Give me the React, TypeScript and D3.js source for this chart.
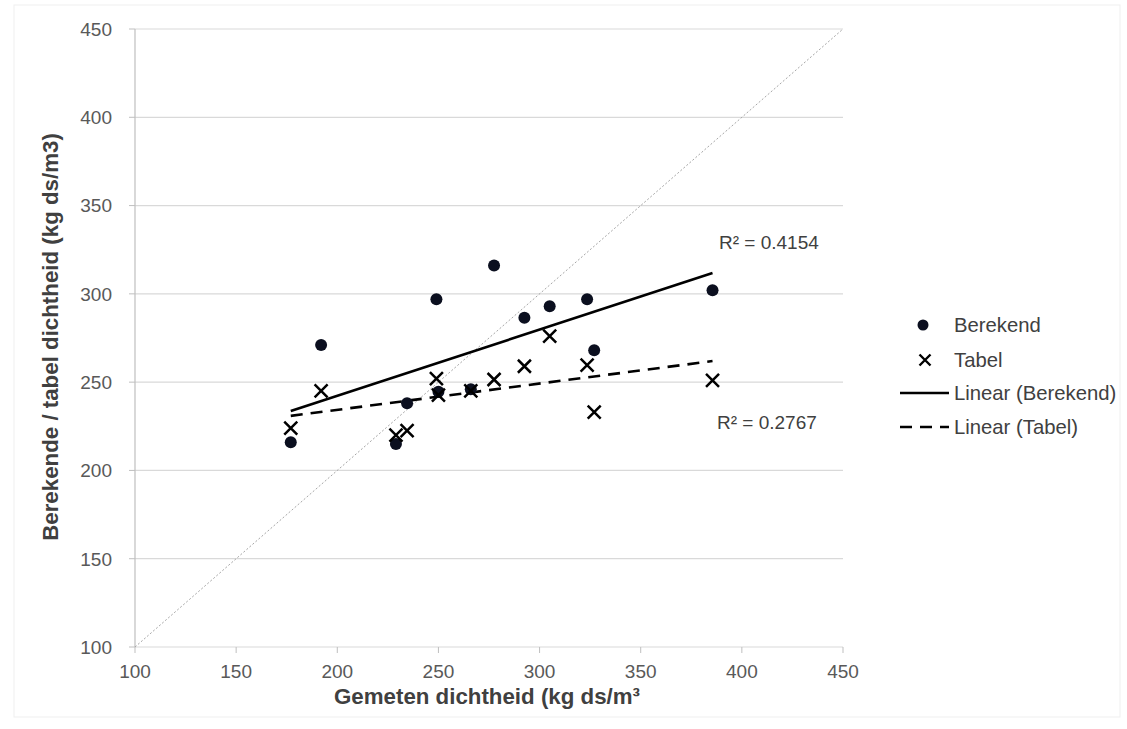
import React from "react";
import * as d3 from "d3";

const measured = [177, 192, 229, 234.5, 249, 250, 266, 277.5, 292.5, 305, 323.5, 327, 385.5];
const berekend = [216, 271, 215, 238, 297, 244.5, 246, 316, 286.5, 293, 297, 268, 302];
const tabel = [224, 245, 220, 222.5, 252, 242.7, 245, 251.5, 259, 276, 259.7, 233, 251];
const ticks = [100, 150, 200, 250, 300, 350, 400, 450];
const r2Labels = ["R² = 0.4154", "R² = 0.2767"];
const legendLabels = ["Berekend", "Tabel", "Linear (Berekend)", "Linear (Tabel)"];

const W = 1127;
const H = 729;
const FONT = "'Liberation Sans', Arial, sans-serif";

function fit(xs: number[], ys: number[]) {
  const mx = d3.mean(xs)!;
  const my = d3.mean(ys)!;
  let sxy = 0, sxx = 0;
  xs.forEach((x, i) => { sxy += (x - mx) * (ys[i] - my); sxx += (x - mx) ** 2; });
  const b = sxy / sxx;
  return { a: my - b * mx, b };
}

export default function App() {
  const x = d3.scaleLinear().domain([100, 450]).range([135, 843]);
  const y = d3.scaleLinear().domain([100, 450]).range([647, 29]);
  const [x0, x1] = d3.extent(measured) as [number, number];
  const fb = fit(measured, berekend);
  const ft = fit(measured, tabel);
  const line = d3.line<[number, number]>().x(d => x(d[0])).y(d => y(d[1]));
  const trendB = line([[x0, fb.a + fb.b * x0], [x1, fb.a + fb.b * x1]]) || "";
  const trendT = line([[x0, ft.a + ft.b * x0], [x1, ft.a + ft.b * x1]]) || "";
  const diag = line([[100, 100], [450, 450]]) || "";
  const cross = (cx: number, cy: number, s: number) =>
    `M${cx - s},${cy - s}L${cx + s},${cy + s}M${cx - s},${cy + s}L${cx + s},${cy - s}`;

  return (
    <svg width={W} height={H} style={{ position: "absolute", left: 0, top: 0, background: "#fff" }} fontFamily={FONT}>
      <rect x={14} y={5} width={1106} height={712} fill="none" stroke="#efefef" />
      {ticks.map(t => (
        <line key={"g" + t} x1={x(100)} x2={x(450)} y1={y(t)} y2={y(t)} stroke="#d9d9d9" strokeWidth={1.2} />
      ))}
      <line x1={x(100)} x2={x(100)} y1={y(100)} y2={y(450)} stroke="#bfbfbf" strokeWidth={1.2} />
      {ticks.map(t => (
        <line key={"yt" + t} x1={x(100) - 6} x2={x(100)} y1={y(t)} y2={y(t)} stroke="#bfbfbf" />
      ))}
      {ticks.map(t => (
        <line key={"xt" + t} x1={x(t)} x2={x(t)} y1={y(100)} y2={y(100) + 6} stroke="#bfbfbf" />
      ))}
      {ticks.map(t => (
        <text key={"yl" + t} x={112} y={y(t)} dy="0.36em" textAnchor="end" fontSize={19} fill="#595959">{t}</text>
      ))}
      {ticks.map(t => (
        <text key={"xl" + t} x={x(t)} y={678} textAnchor="middle" fontSize={19} fill="#595959">{t}</text>
      ))}
      <text x={487} y={704} textAnchor="middle" fontSize={22.3} fontWeight="bold" fill="#404040">
        Gemeten dichtheid (kg ds/m³
      </text>
      <text transform="translate(58,337) rotate(-90)" textAnchor="middle" fontSize={22.3} fontWeight="bold" fill="#404040">
        Berekende / tabel dichtheid (kg ds/m3)
      </text>
      <path d={diag} stroke="#a6a6a6" strokeWidth={1} strokeDasharray="2,2" fill="none" />
      <path d={trendB} stroke="#000" strokeWidth={2.6} fill="none" />
      <path d={trendT} stroke="#000" strokeWidth={2.6} strokeDasharray="12,8" fill="none" />
      {measured.map((m, i) => (
        <circle key={"c" + i} cx={x(m)} cy={y(berekend[i])} r={6} fill="#0b0f1f" />
      ))}
      {measured.map((m, i) => (
        <path key={"x" + i} d={cross(x(m), y(tabel[i]), 6.5)} stroke="#000" strokeWidth={2.5} fill="none" />
      ))}
      <text x={719} y={249} fontSize={19} fill="#404040">{r2Labels[0]}</text>
      <text x={717} y={429} fontSize={19} fill="#404040">{r2Labels[1]}</text>
      <circle cx={923} cy={325} r={5.5} fill="#0b0f1f" />
      <path d={cross(925, 360, 5.5)} stroke="#000" strokeWidth={2.4} fill="none" />
      <line x1={900} x2={949} y1={393} y2={393} stroke="#000" strokeWidth={2.6} />
      <line x1={900} x2={949} y1={427} y2={427} stroke="#000" strokeWidth={2.6} strokeDasharray="12,8" />
      {legendLabels.map((l, i) => (
        <text key={l} x={954} y={[325, 360, 393, 427][i]} dy="0.36em" fontSize={20.3} fill="#404040">{l}</text>
      ))}
    </svg>
  );
}
